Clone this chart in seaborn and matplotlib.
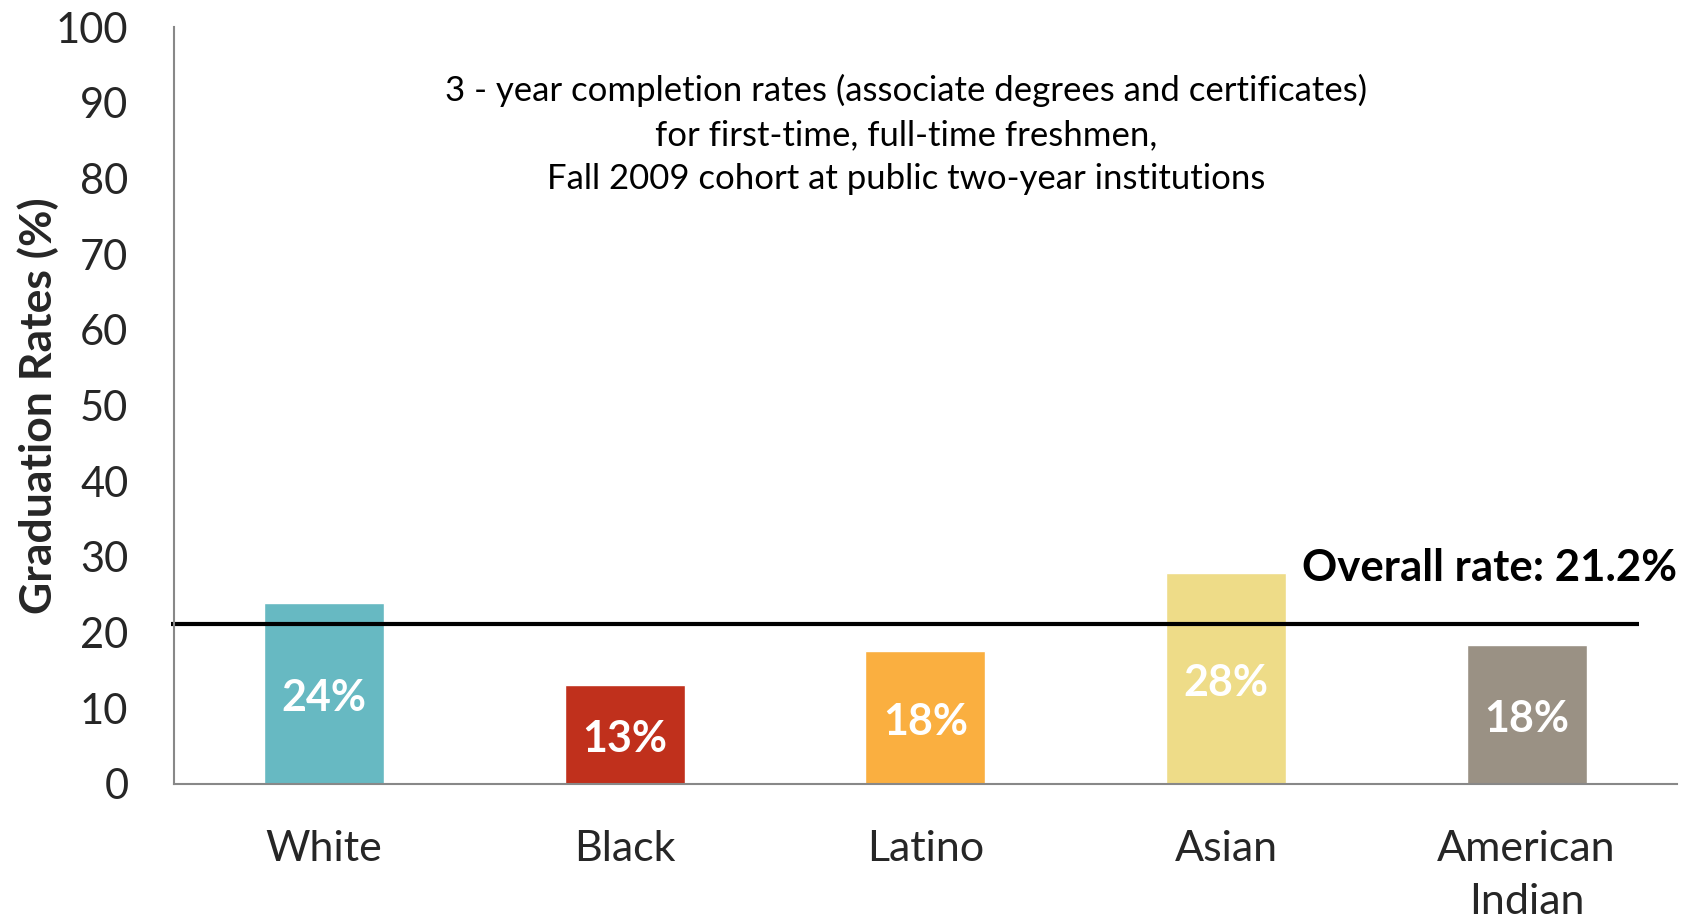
import matplotlib
matplotlib.use("Agg")
import matplotlib.pyplot as plt
import seaborn as sns
import pandas as pd

# =========================
# DATA
# =========================

groups = ["White", "Black", "Latino", "Asian", "American\nIndian"]
rates = [23.9, 13.1, 17.6, 27.9, 18.4]
bar_colors = ["#67B9C2", "#C0301C", "#FAAF40", "#EEDC88", "#9A9184"]
overall_rate = 21.2
y_ticks = [0, 10, 20, 30, 40, 50, 60, 70, 80, 90, 100]

note_text = ("3 - year completion rates (associate degrees and certificates)\n"
             "for first-time, full-time freshmen,\n"
             "Fall 2009 cohort at public two-year institutions")

df = pd.DataFrame({"group": groups, "rate": rates})

# =========================
# STYLE
# =========================

sns.set_style("white")
plt.rcParams["font.family"] = ["Lato", "DejaVu Sans"]

fig = plt.figure(figsize=(16.91, 9.23), dpi=100)
ax = fig.add_axes([0.1027, 0.1506, 0.8890, 0.8201])

sns.barplot(data=df, x="group", y="rate", hue="group", palette=bar_colors,
            legend=False, width=0.4, saturation=1, ax=ax)

for cont in ax.containers:
    texts = ax.bar_label(cont, labels=[f"{v:.0f}%" for v in cont.datavalues],
                         label_type="center", color="white", fontsize=31,
                         fontweight="bold")
    for t in texts:
        t.xyann = (0, -3)  # nudge a little lower, like the original

# overall line
ax.plot([-0.51, 4.375], [overall_rate, overall_rate], color="black",
        lw=3, solid_capstyle="butt", clip_on=False)
ax.text(4.5, 28.5, f"Overall rate: {overall_rate}%", ha="right", va="center",
        fontsize=31.5, fontweight="bold", color="black")

ax.text(0.487, 0.858, note_text, transform=ax.transAxes, ha="center",
        va="center", fontsize=25, linespacing=1.45, color="black")

# =========================
# AXES
# =========================

ax.set_xlim(-0.5, 4.5)
ax.set_ylim(0, 100)
ax.set_yticks(y_ticks)
ax.set_xticks(range(len(groups)))
ax.set_xticklabels(groups, fontsize=31, linespacing=1.5)
ax.set_xticks([i - 0.5 for i in range(len(groups) + 1)], minor=True)
ax.tick_params(axis="x", which="major", length=0, pad=33)
ax.tick_params(axis="x", which="minor", length=10, width=1.5,
               color="#888888", direction="out")
ax.tick_params(axis="y", length=8.6, width=1.5, color="#888888",
               direction="out", pad=24, labelsize=30)
ax.set_xlabel("")
ax.set_ylabel("Graduation Rates (%)", fontsize=32, fontweight="bold")
ax.yaxis.set_label_coords(-0.076, 0.5)

for side in ["top", "right"]:
    ax.spines[side].set_visible(False)
for side in ["left", "bottom"]:
    ax.spines[side].set_color("#888888")
    ax.spines[side].set_linewidth(1.5)

fig.savefig("out.png", dpi=100)
